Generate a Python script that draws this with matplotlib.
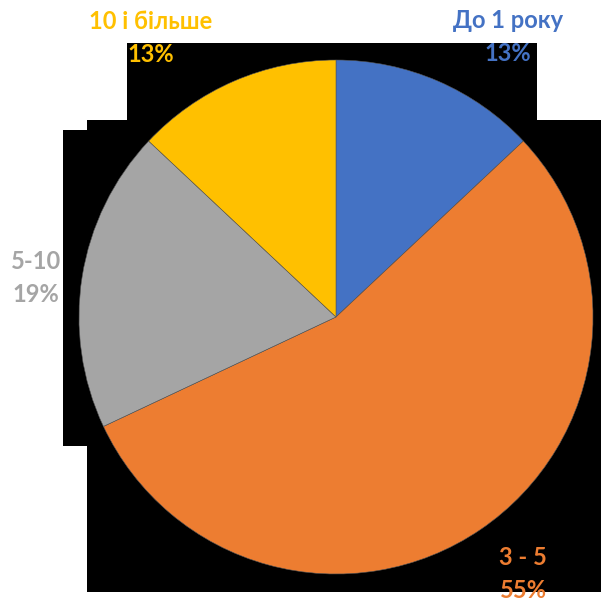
import matplotlib.pyplot as plt
from matplotlib.patches import Rectangle

# share of respondents by work experience
categories = ["До 1 року", "3 - 5", "5-10", "10 і більше"]
shares = [13, 55, 19, 13]
colors = ["#4472C4", "#ED7D31", "#A5A5A5", "#FFC000"]

W = H = 601
fig = plt.figure(figsize=(W / 100, H / 100), dpi=100, facecolor="white")
ax = fig.add_axes([0, 0, 1, 1])

# black plot area behind the pie (screen coords, y from top)
for x0, y0, x1, y1 in [(127, 43, 537, 120), (87, 120, 601, 592), (63, 130, 87, 446)]:
    ax.add_patch(Rectangle((x0, H - y1), x1 - x0, y1 - y0, color="black", lw=0, zorder=0))

ax.pie(shares, colors=colors, startangle=90, counterclock=False,
       center=(336, H - 317), radius=257, frame=True,
       wedgeprops=dict(linewidth=0.4, edgecolor="#555555"))
ax.set_xlim(0, W)
ax.set_ylim(0, H)
ax.axis("off")

# label positions (centre of each two-line label, y from top)
label_pos = [(508, 37), (523, 574), (36, 278), (151, 38)]
for name, val, col, (lx, ly) in zip(categories, shares, colors, label_pos):
    ax.text(lx, H - ly, f"{name}\n{val}%", color=col, ha="center", va="center",
            fontsize=17, fontweight="bold", family="Lato", linespacing=1.5)

fig.savefig("out.png", dpi=100, facecolor="white")
